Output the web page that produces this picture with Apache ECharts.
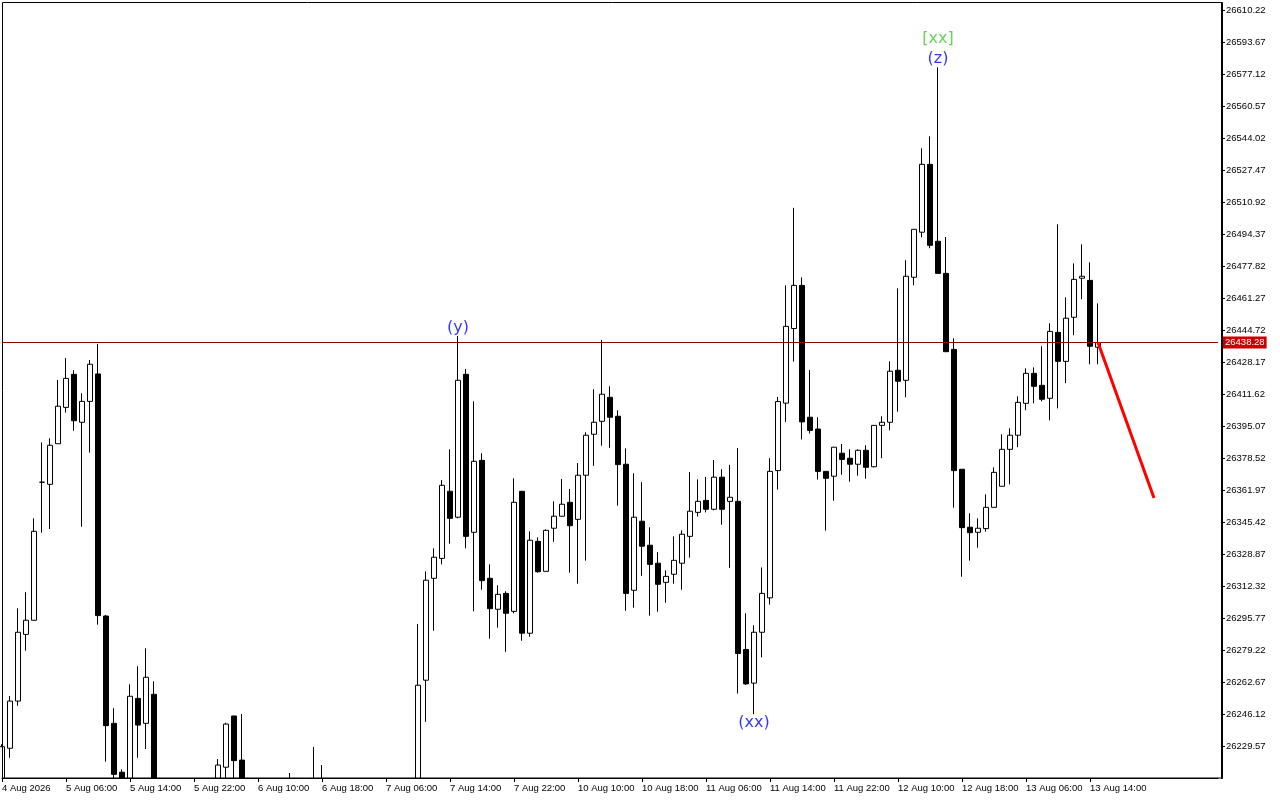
<!DOCTYPE html>
<html>
<head>
<meta charset="utf-8">
<script src="https://cdn.jsdelivr.net/npm/echarts@6/dist/echarts.min.js"></script>
<style>
  html, body { margin: 0; padding: 0; background: #fff; }
  #chart { width: 1280px; height: 800px; }
</style>
</head>
<body>
<div id="chart"></div>
<script>
// tick labels, one every 8 hourly bars
const tickLabels = ['4 Aug 2026', '5 Aug 06:00', '5 Aug 14:00', '5 Aug 22:00', '6 Aug 10:00', '6 Aug 18:00',
  '7 Aug 06:00', '7 Aug 14:00', '7 Aug 22:00', '10 Aug 10:00', '10 Aug 18:00', '11 Aug 06:00',
  '11 Aug 14:00', '11 Aug 22:00', '12 Aug 10:00', '12 Aug 18:00', '13 Aug 06:00', '13 Aug 14:00'];

// H1 bars (bars 20-51 sit below the visible range)
const opens = [26205, 26228.4, 26252.8, 26287.3, 26294.6, 26366.0, 26364.9, 26385.9, 26404.7, 26421.8,
  26397.0, 26407.8, 26422.0, 26296.8, 26241.3, 26216.0, 26200, 26254.2, 26241.3, 26256.3,
  26195, 26186, 26192, 26180, 26188, 26194, 26200, 26205, 26218.6, 26245.1,
  26222.3, 26200, 26194, 26190, 26196, 26200, 26205, 26201, 26198, 26203,
  26199, 26202, 26196, 26192, 26197, 26194, 26199, 26196, 26201, 26198,
  26203, 26206, 26204, 26263.6, 26316.3, 26326.6, 26361.3, 26347.9, 26421.8, 26340.1,
  26377.3, 26316.3, 26300.3, 26308.5, 26299.2, 26361.3, 26287.9, 26335.4, 26319.9, 26342.2,
  26348.4, 26355.6, 26346.8, 26369.6, 26390.8, 26397.5, 26409.9, 26400.1, 26375.3, 26310.1,
  26345.8, 26333.4, 26324.1, 26314.2, 26318.4, 26324.1, 26338.0, 26350.4, 26356.6, 26352.0,
  26368.6, 26356.1, 26356.1, 26279.5, 26262.1, 26288.4, 26306.2, 26372.0, 26406.9, 26445.5,
  26467.8, 26399.6, 26393.5, 26371.6, 26369.1, 26381.0, 26378.4, 26375.3, 26382.5, 26374.0,
  26395.4, 26397.0, 26423.9, 26418.7, 26472.0, 26495.3, 26530.4, 26490.6, 26474.0, 26434.7,
  26372.7, 26342.7, 26340.1, 26342.0, 26353.0, 26363.9, 26383.0, 26390.3, 26406.8, 26422.3,
  26416.1, 26409.4, 26443.5, 26428.5, 26451.3, 26471.5, 26470.4, 26435.8];
const closes = [26229.2, 26252.8, 26288.4, 26294.6, 26340.6, 26366.0, 26385.1, 26405.3, 26419.7, 26397.8,
  26407.8, 26427.0, 26297.0, 26240.1, 26214.9, 26205, 26255.3, 26240.4, 26265.1, 26195,
  26186, 26192, 26180, 26188, 26194, 26200, 26205, 26219.7, 26240.9, 26222.0,
  26200, 26194, 26190, 26196, 26200, 26205, 26201, 26198, 26203, 26199,
  26202, 26196, 26192, 26197, 26194, 26199, 26196, 26201, 26198, 26203,
  26206, 26204, 26261.0, 26315.3, 26327.2, 26364.4, 26347.3, 26418.7, 26338.0, 26376.8,
  26315.1, 26300.6, 26308.0, 26298.2, 26355.6, 26287.9, 26336.0, 26319.7, 26341.1, 26348.4,
  26354.6, 26343.5, 26369.6, 26390.3, 26397.0, 26411.5, 26399.6, 26375.1, 26308.5, 26347.9,
  26332.9, 26323.5, 26313.2, 26317.3, 26325.6, 26339.1, 26351.0, 26356.1, 26352.0, 26368.6,
  26352.0, 26358.2, 26277.4, 26261.7, 26288.4, 26308.5, 26371.6, 26407.7, 26446.6, 26467.8,
  26397.2, 26392.8, 26371.6, 26368.0, 26384.1, 26377.8, 26375.3, 26382.5, 26373.7, 26395.4,
  26397.0, 26423.4, 26418.2, 26472.5, 26496.8, 26530.4, 26488.5, 26474.0, 26433.5, 26372.0,
  26342.5, 26339.9, 26342.2, 26353.0, 26371.1, 26383.0, 26390.3, 26407.3, 26422.3, 26415.6,
  26408.9, 26444.0, 26428.5, 26450.8, 26470.9, 26472.5, 26436.3, 26438.28];
const lows = [26198, 26223.5, 26250.4, 26278.9, 26294.6, 26339.9, 26341.8, 26385.9, 26402.0, 26392.6,
  26343.0, 26381.3, 26292.3, 26221.5, 26208, 26198, 26195, 26223.5, 26228.0, 26188,
  26176, 26178, 26172, 26174, 26182, 26186, 26193, 26198, 26208, 26205,
  26192, 26186, 26180, 26184, 26189, 26196, 26194, 26190, 26192, 26190,
  26193, 26188, 26184, 26186, 26187, 26188, 26190, 26190, 26192, 26193,
  26196, 26198, 26198, 26242.1, 26289.2, 26323.5, 26334.2, 26347.3, 26331.8, 26299.2,
  26310.4, 26285.1, 26290.8, 26278.3, 26298.2, 26284.0, 26286.1, 26319.2, 26319.9, 26335.2,
  26348.4, 26319.2, 26313.5, 26325.4, 26374.5, 26384.9, 26383.8, 26353.9, 26299.5, 26301.1,
  26317.6, 26297.0, 26299.0, 26303.7, 26313.5, 26310.4, 26327.0, 26348.3, 26350.4, 26351.5,
  26344.0, 26321.7, 26256.7, 26261.2, 26246.0, 26275.4, 26302.7, 26362.2, 26397.2, 26428.4,
  26388.1, 26391.2, 26367.4, 26341.0, 26356.4, 26369.9, 26366.3, 26369.4, 26367.8, 26373.7,
  26378.4, 26392.8, 26402.5, 26409.9, 26467.8, 26492.7, 26487.0, 26474.0, 26433.5, 26352.8,
  26317.1, 26325.4, 26332.1, 26340.4, 26353.0, 26363.9, 26364.9, 26384.1, 26403.2, 26406.8,
  26407.8, 26398.0, 26404.2, 26417.2, 26442.0, 26460.6, 26427.0, 26427.0];
const highs = [26230.5, 26255.4, 26300.8, 26309.1, 26347.3, 26386.6, 26388.7, 26418.9, 26430.2, 26423.9,
  26412.0, 26429.2, 26437.5, 26297.3, 26249.1, 26217.5, 26261.5, 26270.8, 26280.1, 26263.0,
  26204, 26200, 26198, 26196, 26202, 26206, 26210, 26222.8, 26241.6, 26245.1,
  26246.1, 26208, 26204, 26206, 26209, 26212.9, 26215.6, 26208, 26210, 26229.1,
  26219.7, 26209, 26205, 26206, 26208, 26207, 26209, 26210, 26211, 26211,
  26211, 26211, 26292.7, 26319.9, 26331.8, 26367.1, 26383.0, 26441.6, 26424.6, 26407.8,
  26381.0, 26323.5, 26312.7, 26309.6, 26368.0, 26361.3, 26340.6, 26337.5, 26341.6, 26356.1,
  26367.7, 26362.5, 26375.9, 26391.8, 26414.1, 26439.6, 26415.6, 26403.2, 26383.5, 26370.6,
  26366.0, 26342.7, 26329.8, 26320.4, 26338.0, 26341.1, 26371.3, 26367.5, 26368.7, 26377.5,
  26372.7, 26375.0, 26383.7, 26298.2, 26292.0, 26321.9, 26378.4, 26410.1, 26467.8, 26507.9,
  26471.9, 26424.0, 26399.6, 26371.6, 26384.1, 26385.8, 26383.0, 26383.0, 26385.1, 26395.4,
  26400.1, 26428.5, 26466.3, 26480.8, 26496.8, 26538.7, 26544.9, 26580.6, 26492.8, 26440.4,
  26372.7, 26349.9, 26347.3, 26359.7, 26373.7, 26390.8, 26393.9, 26410.4, 26424.9, 26425.4,
  26436.3, 26448.2, 26499.4, 26461.6, 26479.2, 26489.0, 26479.7, 26458.5];

const lastPrice = 26438.28;

// projected move after the last bar
const forecastIdx = [137, 144];
const forecastVal = [26438.28, 26357.8];

// wave marks
const waveNames = ['(y)', '[xx]', '(z)', '(xx)'];
const waveIdx = [57, 117, 117, 94];
const waveVals = [26445.8, 26595.2, 26584.9, 26241.5];
const waveColors = ['#0000ff', '#44c82c', '#0000ff', '#0000ff'];

const slotCount = 153; // bars + empty room on the right
const categories = [];
for (let i = 0; i < slotCount; i++) categories.push(String(i));

const candles = opens.map((o, i) => [o, closes[i], lows[i], highs[i]]);
const isTick = (idx) => idx % 8 === 0 && idx / 8 < tickLabels.length;

const chart = echarts.init(document.getElementById('chart'));
chart.setOption({
  animation: false,
  backgroundColor: '#fff',
  textStyle: { fontFamily: 'Liberation Sans' },
  grid: { left: 2, right: 62, top: 3, bottom: 22, outerBoundsMode: 'none' },
  xAxis: {
    type: 'category',
    z: 10,
    data: categories,
    boundaryGap: false,
    axisLine: { lineStyle: { color: '#000', width: 1 } },
    axisTick: { interval: isTick, length: 4, lineStyle: { color: '#000' } },
    axisLabel: {
      interval: isTick,
      formatter: (v, idx) => tickLabels[idx / 8] || '',
      align: 'left',
      margin: 5,
      color: '#000',
      fontSize: 9.5,
      fontFamily: 'Liberation Sans'
    },
    splitLine: { show: false }
  },
  yAxis: {
    type: 'value',
    position: 'right',
    offset: 4,
    z: 10,
    min: 26213.02,
    max: 26613.84,
    interval: 16.55,
    axisLine: { show: true, lineStyle: { color: '#000', width: 2 } },
    axisTick: { show: true, length: 3, lineStyle: { color: '#000' } },
    axisLabel: {
      showMinLabel: false,
      showMaxLabel: false,
      formatter: (v) => v.toFixed(2),
      margin: 4,
      color: '#000',
      fontSize: 9.5,
      fontFamily: 'Liberation Sans'
    },
    splitLine: { show: false }
  },
  graphic: [
    // candles don't clip partially, so mask the strip under the plot
    {
      type: 'rect',
      silent: true,
      z: 5,
      shape: { x: 0, y: 778.5, width: 1280, height: 22 },
      style: { fill: '#fff' }
    },
    {
      type: 'rect',
      silent: true,
      z: 100,
      shape: { x: 2.5, y: 2.5, width: 1219.5, height: 775.5 },
      style: { fill: 'none', stroke: '#000', lineWidth: 1 }
    }
  ],
  series: [
    {
      type: 'candlestick',
      data: candles,
      barWidth: 5,
      clip: true,
      itemStyle: {
        color: '#fff',
        color0: '#000',
        borderColor: '#000',
        borderColor0: '#000',
        borderColorDoji: '#000',
        borderWidth: 1
      },
      markLine: {
        silent: true,
        symbol: ['none', 'none'],
        lineStyle: { color: '#900000', width: 1, type: 'solid' },
        label: {
          show: true,
          position: 'end',
          distance: 5,
          formatter: () => lastPrice.toFixed(2),
          color: '#fff',
          backgroundColor: '#c80000',
          padding: [1, 2],
          fontSize: 9.5,
          fontFamily: 'Liberation Sans'
        },
        data: [{ yAxis: lastPrice }]
      }
    },
    {
      type: 'line',
      data: forecastIdx.map((x, i) => [x, forecastVal[i]]),
      symbol: 'none',
      lineStyle: { color: '#ff0000', width: 3 },
      z: 5
    },
    {
      type: 'scatter',
      symbolSize: 0,
      data: waveNames.map((n, i) => ({
        value: [waveIdx[i], waveVals[i]],
        label: { color: waveColors[i] }
      })),
      label: {
        show: true,
        position: 'inside',
        formatter: (p) => waveNames[p.dataIndex],
        fontSize: 16,
        fontFamily: 'DejaVu Sans'
      },
      z: 6
    }
  ]
});
</script>
</body>
</html>
